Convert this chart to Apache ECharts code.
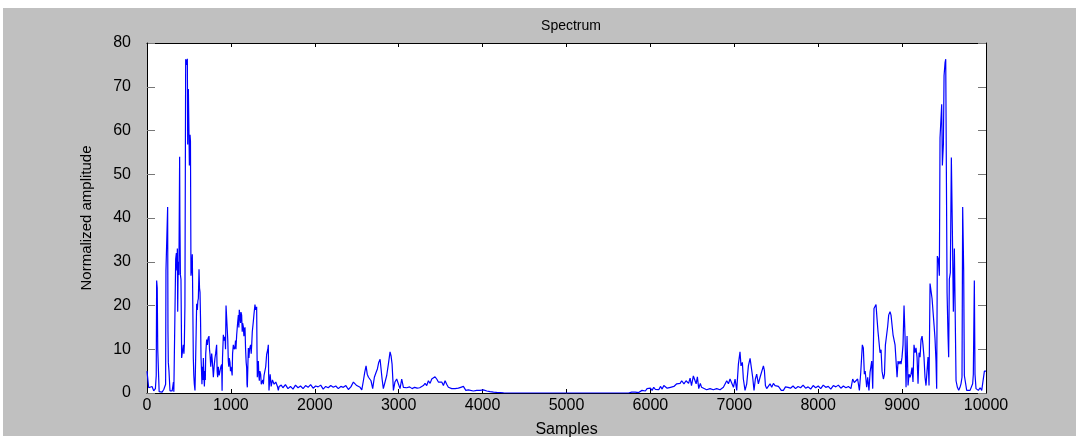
<!DOCTYPE html>
<html>
<head>
<meta charset="utf-8">
<title>Spectrum</title>
<script src="https://cdn.jsdelivr.net/npm/echarts@6/dist/echarts.min.js"></script>
<style>
  html, body { margin: 0; padding: 0; background: #fff; }
  .figure-bg { position: absolute; left: 3px; top: 8px; width: 1073px; height: 428px; background: #c0c0c0; }
  #spectrum { position: absolute; left: 0; top: 0; width: 1084px; height: 443px; }
</style>
</head>
<body>
<div class="figure-bg"></div>
<div id="spectrum"></div>
<script>
// samples / amplitude, segment by segment
const lowBandX = [0, 10, 20, 40, 60, 80, 100, 110, 115, 122, 128, 135, 140, 145, 160, 180, 200, 215, 222, 226, 240, 246, 250, 254, 262, 274, 282, 300, 315, 320, 334,
  342, 350, 356, 362, 366, 372, 380, 389, 392, 398, 405, 413, 420, 433, 440, 445, 452, 461, 470, 481, 485, 490, 493, 500, 505, 510, 513, 518, 524, 530, 540, 546, 552, 558, 564, 572,
  580, 586, 592, 600, 606, 612, 620, 626, 632, 638, 644, 650, 655, 660, 666, 672, 678, 684, 690, 695, 700, 711, 720, 728, 739, 745, 751, 760, 771, 780, 791, 800, 810, 818, 830, 836,
  842, 850, 860, 870, 880, 890, 895, 900, 910, 920, 930, 936, 942, 950, 957, 963, 969, 975, 980, 989, 995, 1000, 1009, 1015, 1020, 1029, 1040, 1049, 1055, 1060, 1069, 1080, 1089,
  1095, 1100, 1109, 1115, 1120, 1128, 1135, 1140, 1148, 1155, 1160, 1168, 1175, 1182, 1188, 1192, 1196, 1202, 1208, 1215, 1222, 1228, 1235, 1242, 1248, 1255, 1267, 1275, 1287, 1295,
  1307, 1311, 1315, 1321, 1327, 1333, 1339, 1345, 1355, 1362, 1371, 1380, 1387, 1395, 1406, 1415, 1426, 1432, 1440, 1446, 1450, 1454, 1462, 1468, 1474, 1480, 1486, 1495, 1506, 1515,
  1526, 1535, 1546, 1555, 1565, 1575, 1585, 1600];
const lowBandY = [5.0, 4.8, 1.2, 1.0, 1.5, 0.5, 1.0, 4, 25.7, 24, 10, 9.6, 3, 0.3, 0.5, 0.2, 0.8, 0.5, 2, 28, 28, 42.5, 14, 7, 5, 0.5, 0.3, 0.5, 2.5, 0.3, 0.5,
  30.6, 32, 28, 33, 18.6, 30, 27, 54, 40, 27, 26, 8, 8, 11, 9, 11, 20, 76.3, 75, 76.4, 56.8, 68, 69.5, 60, 52, 58, 59, 57.5, 26.8, 28, 31.7, 20, 8, 4, 2, 0.6,
  8, 14, 20.4, 19, 21, 21.6, 28.3, 24, 23, 17, 8, 5, 2, 6, 3, 8, 4, 1.5, 5, 3, 9, 12.2, 11, 12.5, 13, 10, 8.8, 6, 9, 7, 3.6, 6, 8, 9, 11, 5,
  3.6, 6, 4, 4.3, 6, 6.5, 0.5, 8, 13.3, 12, 12.8, 10, 20, 17, 16.7, 12, 7.3, 6, 8, 7, 5, 6, 5, 4, 9, 11, 10, 10.5, 12, 10, 13.3, 16, 17.8,
  15, 19, 18.6, 16, 18.5, 17.8, 14, 16, 15.2, 13, 14.5, 15, 10, 7, 5.8, 2, 1.3, 6, 10.3, 8, 10, 9.6, 11, 9, 11, 14, 16.3, 18, 20.2, 19,
  19.7, 10, 3.6, 6, 7.3, 4, 2.8, 5, 4.3, 2, 1.7, 3, 2, 4, 3.6, 6, 8.8, 9, 10, 11, 4, 0.6, 3, 4.3, 4.5, 1.5, 1.3, 3, 3.2, 2,
  1.7, 2.5, 2.8, 1.5, 0.6, 1.5, 1.3, 1.8];

const noiseLeftX = [1620, 1650, 1680, 1710, 1740, 1770, 1800, 1830, 1860, 1890, 1920, 1950, 1980, 2010, 2040, 2070, 2100, 2130, 2160, 2190, 2220, 2250, 2280, 2310, 2340, 2370, 2400, 2430];
const noiseLeftY = [1.2, 1.9, 1.0, 1.5, 0.9, 1.8, 1.2, 1.6, 1.0, 1.7, 1.3, 1.9, 1.1, 1.6, 1.4, 1.8, 0.9, 1.5, 1.2, 1.7, 1.3, 1.6, 1.0, 1.5, 1.3, 1.7, 0.8, 1.4];

const humpLeftX = [2460, 2480, 2500, 2520, 2540, 2560, 2579, 2595, 2611, 2625, 2640, 2659, 2670, 2690, 2710, 2730, 2746, 2762, 2778, 2790, 2802, 2817, 2837, 2857, 2877, 2897, 2909,
  2921, 2937, 2955, 2976, 2996, 3016, 3036, 3056, 3076, 3096, 3130, 3160, 3190, 3220, 3250, 3294, 3314, 3334, 3354, 3374, 3394, 3413, 3433, 3453, 3473, 3493, 3513, 3533, 3553,
  3572, 3592, 3612, 3632, 3652, 3672, 3691, 3711, 3740, 3771, 3800, 3830, 3850, 3890, 3930, 3970, 4009, 4050, 4089, 4130, 4168, 4210, 4250, 4300];
const humpLeftY = [2.5, 2.8, 1.7, 1.3, 1.3, 0.7, 2.8, 4.7, 6.2, 4.3, 3.6, 4.0, 2.8, 1.0, 3.6, 4.7, 5.5, 7.0, 7.7, 8.1, 3.2, 1.0, 0.6, 4.0, 6.6, 9.4, 8.5,
  6.6, 0.6, 2.5, 3.2, 2.8, 1.0, 3.2, 1.3, 0.9, 1.2, 1.4, 1.0, 1.3, 1.1, 1.2, 1.7, 2.2, 1.7, 2.8, 2.2, 3.2, 3.6, 3.7, 3.2, 2.5, 2.8, 2.5, 1.7, 2.8,
  2.0, 1.3, 1.7, 1.0, 1.4, 1.0, 0.6, 1.1, 1.3, 1.5, 0.6, 0.7, 0.7, 0.45, 0.6, 0.6, 0.7, 0.45, 0.3, 0.2, 0.15, 0.1, 0.02, 0];

const gapX = [4600, 5000, 5400, 5740];
const gapY = [0, 0, 0, 0];

const humpRightX = [5757, 5777, 5820, 5860, 5900, 5916, 5940, 5960, 5980, 6000, 6020, 6040, 6060, 6080, 6100, 6120, 6140, 6160, 6180, 6200, 6220, 6240, 6260, 6280, 6314, 6334,
  6354, 6373, 6385, 6400, 6425, 6440, 6455, 6473, 6490, 6512, 6525, 6545, 6560, 6576, 6595, 6610, 6631, 6670, 6711, 6750, 6790, 6830, 6870, 6890, 6910, 6930, 6949, 6970, 6990,
  7009, 7029, 7049, 7068, 7080, 7096, 7108, 7128, 7148, 7168, 7188, 7208, 7219, 7235, 7251, 7267, 7287, 7307, 7327, 7347, 7359, 7371, 7386, 7406, 7426, 7446, 7466, 7486, 7506, 7526];
const humpRightY = [0.05, 0.2, 0.2, 0.1, 0.6, 0.8, 0.45, 1.0, 0.75, 1.1, 0.6, 1.3, 0.8, 1.2, 0.75, 1.5, 0.9, 1.7, 1.3, 1.1, 1.5, 1.3, 1.1, 1.5, 2.1, 1.9,
  2.2, 2.8, 3.2, 2.1, 2.8, 3.0, 2.2, 3.4, 1.7, 3.9, 3.6, 2.1, 3.7, 1.0, 2.2, 1.3, 1.0, 0.75, 1.0, 0.75, 1.0, 0.75, 1.3, 1.0, 2.8, 2.1, 3.2, 2.8, 1.3,
  3.2, 0.6, 6.6, 9.4, 6.2, 7.0, 3.2, 0.6, 2.1, 6.2, 7.9, 7.7, 3.6, 0.6, 3.2, 4.3, 2.1, 3.6, 4.0, 6.2, 5.1, 1.7, 1.0, 1.3, 2.1, 1.3, 2.2, 1.7, 1.3, 1.5];

const noiseRightX = [7560, 7585, 7610, 7640, 7670, 7700, 7730, 7760, 7790, 7820, 7850, 7880, 7910, 7940, 7970, 8000, 8030, 8060, 8090, 8120, 8150, 8180, 8210, 8240, 8270, 8300, 8330, 8360, 8390];
const noiseRightY = [0.6, 0.6, 1.4, 1.3, 1.1, 1.6, 1.0, 1.5, 1.2, 1.8, 1.1, 1.4, 0.9, 1.7, 1.2, 1.6, 1.0, 1.8, 1.3, 1.5, 0.9, 1.7, 1.4, 1.8, 1.1, 1.6, 1.2, 1.5, 1.0];

const highBandX = [8411, 8430, 8450, 8470, 8491, 8507, 8520, 8526, 8538, 8550, 8560, 8578, 8590, 8605, 8618, 8638, 8650, 8665, 8677, 8689, 8701, 8713, 8725, 8737, 8749, 8761,
  8777, 8790, 8801, 8816, 8828, 8840, 8856, 8868, 8880, 8892, 8904, 8916, 8928, 8940, 8952, 8963, 8975, 8987, 8999, 9011, 9023, 9035, 9047, 9059, 9071, 9083, 9095, 9106, 9118,
  9130, 9142, 9154, 9166, 9178, 9190, 9202, 9214, 9226, 9238, 9249, 9261, 9273, 9285, 9297, 9309, 9321, 9333, 9345, 9357, 9369, 9381, 9392, 9404, 9412, 9420, 9432, 9444, 9452,
  9464, 9472, 9480, 9492, 9500, 9512, 9520, 9528, 9536, 9547, 9555, 9563, 9575, 9587, 9599, 9611, 9623, 9635, 9643, 9659, 9675, 9690, 9702, 9714, 9722, 9734, 9742, 9754, 9770,
  9790, 9810, 9830, 9841, 9849, 9861, 9869, 9881, 9909, 9930, 9949, 9969, 9981, 10000];
const highBandY = [3.2, 2.4, 2.0, 3.2, 0.6, 4.7, 4.3, 11, 10.3, 4.3, 5, 1.3, 3.6, 0.6, 4.7, 7.3, 1.0, 19.3, 19.7, 20.2, 17, 14, 14.4, 9.2, 9.9, 5,
  3.2, 4.3, 11, 11.4, 15.2, 17.8, 18.6, 17.8, 18.2, 13.3, 13.7, 11, 7.3, 3.6, 7.3, 6.6, 7.3, 6.6, 8.2, 11, 20, 13, 1.3, 13, 1.7, 4.3, 3.6, 4.3, 5.8,
  2.5, 11, 9.2, 10.3, 8.2, 2.1, 9.2, 8.2, 12.2, 13, 11, 8.2, 3.6, 1.7, 5, 8.2, 1.7, 25, 25.3, 21.6, 21.2, 15.5, 12.5, 7.3, 1.0, 31.3, 30.6, 26.8, 58.3,
  58.7, 66, 52, 56.8, 72.5, 75.5, 76.3, 76.3, 23, 13.3, 8.2, 26, 27.5, 53.8, 37.3, 18.6, 33, 33.4, 2.8, 1.3, 0.6, 1.3, 2.1, 3.6, 42.5, 28, 4, 3.6, 0.6,
  0.5, 0.6, 0.5, 2.1, 4.3, 25.7, 4.3, 1.0, 0.6, 1.2, 0.6, 1.0, 5.0, 5.0];

const xTicks = [0, 1000, 2000, 3000, 4000, 5000, 6000, 7000, 8000, 9000, 10000];
const yTicks = [0, 10, 20, 30, 40, 50, 60, 70, 80];

let sampleIdx = [].concat(lowBandX, noiseLeftX, humpLeftX, gapX, humpRightX, noiseRightX, highBandX);
let amplitude = [].concat(lowBandY, noiseLeftY, humpLeftY, gapY, humpRightY, noiseRightY, highBandY);
let lineData = sampleIdx.map((s, i) => [s, amplitude[i]]);

let chart = echarts.init(document.getElementById('spectrum'), null, { renderer: 'canvas' });

const font = 'Liberation Sans, Arial, Helvetica, sans-serif';
let tickCommon = {
  axisLine: { show: true, onZero: false, lineStyle: { color: '#000', width: 1 } },
  splitLine: { show: false }
};

let option = {
  animation: false,
  backgroundColor: 'transparent',
  title: {
    text: 'Spectrum',
    left: 566,
    top: 14,
    textAlign: 'center',
    textStyle: { fontFamily: font, fontSize: 14, fontWeight: 'normal', color: '#000' }
  },
  grid: {
    left: 147, right: 98, top: 43, bottom: 44,
    show: true, backgroundColor: '#fff', borderWidth: 0
  },
  xAxis: [
    Object.assign({
      type: 'value', min: xTicks[0], max: xTicks[xTicks.length - 1], interval: 1000,
      position: 'bottom',
      name: 'Samples', nameLocation: 'middle', nameGap: 29,
      nameTextStyle: { fontFamily: font, fontSize: 16, color: '#000' },
      axisTick: { show: true, inside: true, length: 4, lineStyle: { color: '#000' } },
      axisLabel: { fontFamily: font, fontSize: 16, color: '#000', margin: 5, formatter: v => String(v) }
    }, tickCommon),
    Object.assign({
      type: 'value', min: xTicks[0], max: xTicks[xTicks.length - 1], interval: 1000,
      position: 'top',
      axisTick: { show: true, inside: true, length: 4, lineStyle: { color: '#000' } },
      axisLabel: { show: false }
    }, tickCommon)
  ],
  yAxis: [
    Object.assign({
      type: 'value', min: yTicks[0], max: yTicks[yTicks.length - 1], interval: 10,
      position: 'left',
      name: 'Normalized amplitude', nameLocation: 'middle', nameGap: 53,
      nameTextStyle: { fontFamily: font, fontSize: 15, color: '#000' },
      axisTick: { show: true, inside: true, length: 8, lineStyle: { color: '#777' } },
      axisLabel: { fontFamily: font, fontSize: 16, color: '#000', margin: 16 }
    }, tickCommon),
    Object.assign({
      type: 'value', min: yTicks[0], max: yTicks[yTicks.length - 1], interval: 10,
      position: 'right',
      axisTick: { show: true, inside: true, length: 8, lineStyle: { color: '#777' } },
      axisLabel: { show: false }
    }, tickCommon)
  ],
  series: [
    {
      name: 'Spectrum',
      type: 'line',
      xAxisIndex: 0,
      yAxisIndex: 0,
      data: lineData,
      showSymbol: false,
      symbol: 'none',
      lineStyle: { color: '#0000ff', width: 1.2 },
      z: 3
    }
  ]
};

chart.setOption(option);
</script>
</body>
</html>
